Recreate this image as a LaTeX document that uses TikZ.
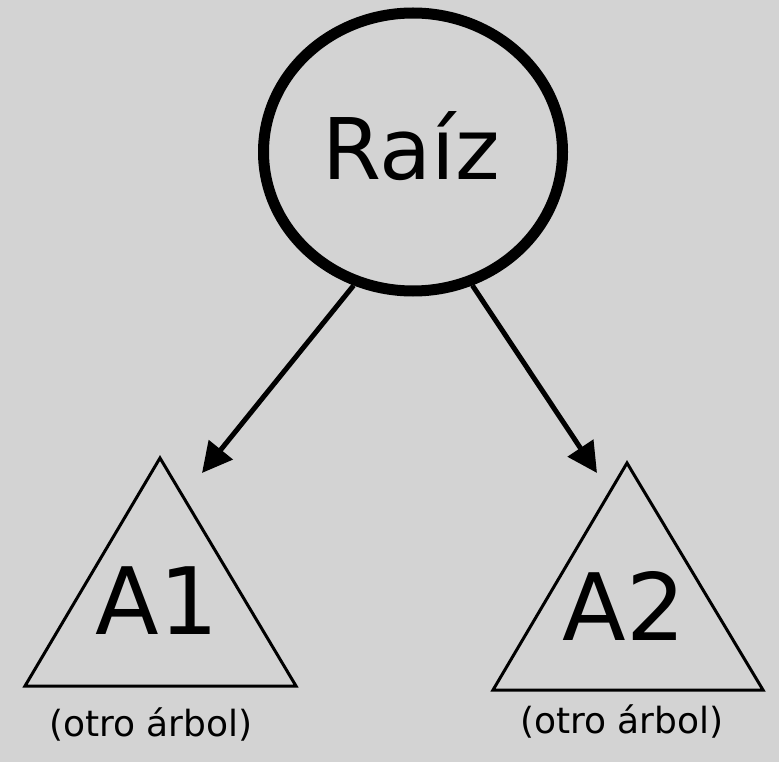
\documentclass[tikz,border=0pt]{standalone}
\usepackage{fontspec}
\setmainfont{DejaVu Sans}
\usetikzlibrary{arrows.meta,shapes.geometric}
\definecolor{fondo}{RGB}{211,211,211}

\begin{document}
\begin{tikzpicture}[x=1pt, y=-1pt, >={Triangle[length=30pt,width=30pt]},
        raiz/.style={draw, ellipse, line width=11pt, minimum width=299pt, minimum height=278pt, inner sep=0pt},
        etiq/.style={anchor=base, inner sep=0pt},
        flecha/.style={->, line width=5pt},
        arbol/.style={line width=3pt, line join=miter}]
        % Draw background
        \fill[fondo] (0,0) rectangle (779,762);
        \useasboundingbox (0,0) rectangle (779,762);

        % Draw root
        \node[raiz] (r) at (413,152) {};
        \node[etiq, font=\fontsize{85}{85}\selectfont] (tr) at (411,180) {Raíz};

        % Draw subtrees
        \draw[arbol] (25,686) -- (160,458) -- (296,686) -- cycle;
        \draw[arbol] (493,690) -- (627,463) -- (763,690) -- cycle;
        \node[etiq, font=\fontsize{93}{93}\selectfont] (a1) at (157,634) {A1};
        \node[etiq, font=\fontsize{93}{93}\selectfont] (a2) at (624,640) {A2};
        \node[etiq, font=\fontsize{36}{36}\selectfont] (o1) at (151,736) {(otro árbol)};
        \node[etiq, font=\fontsize{36}{36}\selectfont] (o2) at (622,733) {(otro árbol)};

        % Draw arrows
        \coordinate (p1) at (202,473);
        \coordinate (p2) at (597,473);
        \draw[flecha] (r.-114) -- (p1);
        \draw[flecha] (r.-66) -- (p2);
    \end{tikzpicture}
\end{document}
